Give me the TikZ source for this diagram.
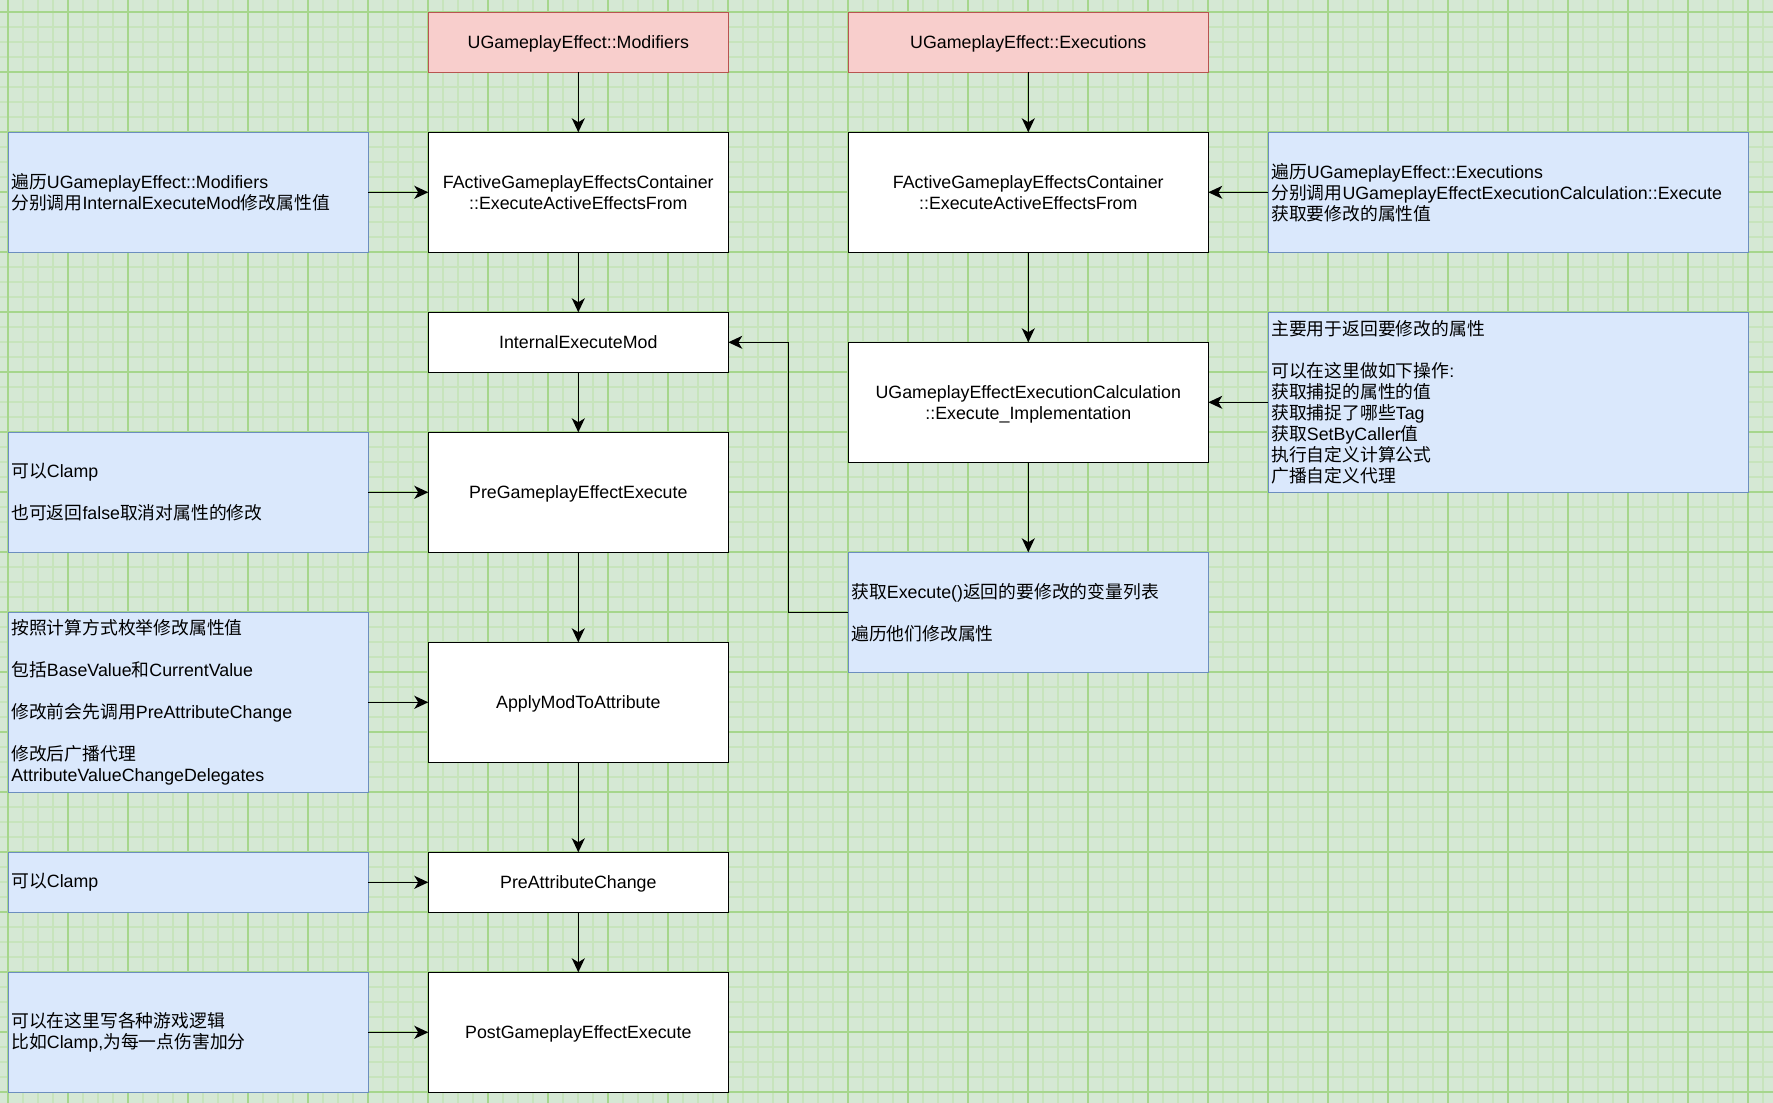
\documentclass[tikz,border=0pt]{standalone}
\usepackage{fontspec}
\setmainfont{Liberation Sans}
\newfontfamily\cjk{Noto Sans CJK SC}
\usetikzlibrary{arrows.meta}
\newcommand\zh[1]{{\cjk #1}}
\definecolor{gbg}{RGB}{213,232,212}
\definecolor{gminor}{RGB}{199,228,188}
\definecolor{gmajor}{RGB}{166,214,140}
\definecolor{redfill}{HTML}{F8CECC}
\definecolor{redline}{HTML}{B85450}
\definecolor{bluefill}{HTML}{DAE8FC}
\definecolor{blueline}{HTML}{6C8EBF}
\tikzset{
  box/.style={draw, line width=1.6pt, inner sep=0pt, outer sep=0pt, font=\fontsize{17.8}{21}\selectfont},
  whitebox/.style={box, draw=black, fill=white, align=center, text depth=-3pt},
  redbox/.style={box, draw=redline, fill=redfill, align=center, text depth=-3pt},
  bluebox/.style={box, draw=blueline, fill=bluefill, align=left, inner xsep=3pt},
  arr/.style={line width=1.6pt, -{Stealth[length=14pt,width=13pt,inset=4pt]}},
}
\begin{document}
\begin{tikzpicture}[x=1pt,y=-1pt]
\useasboundingbox (0,0) rectangle (1773,1103);
\fill[gbg] (0,0) rectangle (1773,1103);
\foreach \i in {0,...,119} {
  \draw[gminor, line width=2pt] ({8.3-15+15*\i},0) -- ({8.3-15+15*\i},1103);
}
\foreach \i in {0,...,74} {
  \draw[gminor, line width=2pt] (0,{12.3-15+15*\i}) -- (1773,{12.3-15+15*\i});
}
\foreach \i in {0,...,29} {
  \draw[gmajor, line width=2pt] ({8.3+60*\i},0) -- ({8.3+60*\i},1103);
}
\foreach \i in {0,...,18} {
  \draw[gmajor, line width=2pt] (0,{12.3+60*\i}) -- (1773,{12.3+60*\i});
}

% main column (x 428.3 - 728.3)
\node[redbox, minimum width=300pt, minimum height=60pt] (mods) at (578.3,42.3) {UGameplayEffect::Modifiers};
\node[whitebox, minimum width=300pt, minimum height=120pt] (fa1) at (578.3,192.3) {FActiveGameplayEffectsContainer\\::ExecuteActiveEffectsFrom};
\node[whitebox, minimum width=300pt, minimum height=60pt] (ime) at (578.3,342.3) {InternalExecuteMod};
\node[whitebox, minimum width=300pt, minimum height=120pt] (pge) at (578.3,492.3) {PreGameplayEffectExecute};
\node[whitebox, minimum width=300pt, minimum height=120pt] (amta) at (578.3,702.3) {ApplyModToAttribute};
\node[whitebox, minimum width=300pt, minimum height=60pt] (pac) at (578.3,882.3) {PreAttributeChange};
\node[whitebox, minimum width=300pt, minimum height=120pt] (post) at (578.3,1032.3) {PostGameplayEffectExecute};

% left notes (x 8.3 - 368.3)
\node[bluebox, minimum width=360pt, text width=354pt, minimum height=120pt] (n1) at (188.3,192.3) {\zh{遍历}UGameplayEffect::Modifiers\\\zh{分别调用}InternalExecuteMod\zh{修改属性值}};
\node[bluebox, minimum width=360pt, text width=354pt, minimum height=120pt] (n2) at (188.3,492.3) {\zh{可以}Clamp\\[21pt]\zh{也可返回}false\zh{取消对属性的修改}};
\node[bluebox, minimum width=360pt, text width=354pt, minimum height=180pt] (n3) at (188.3,702.3) {\zh{按照计算方式枚举修改属性值}\\[21pt]\zh{包括}BaseValue\zh{和}CurrentValue\\[21pt]\zh{修改前会先调用}PreAttributeChange\\[21pt]\zh{修改后广播代理}\\AttributeValueChangeDelegates};
\node[bluebox, minimum width=360pt, text width=354pt, minimum height=60pt] (n4) at (188.3,882.3) {\zh{可以}Clamp};
\node[bluebox, minimum width=360pt, text width=354pt, minimum height=120pt] (n5) at (188.3,1032.3) {\zh{可以在这里写各种游戏逻辑}\\\zh{比如}Clamp,\zh{为每一点伤害加分}};

% right column (x 848.3 - 1208.3)
\node[redbox, minimum width=360pt, minimum height=60pt] (execs) at (1028.3,42.3) {UGameplayEffect::Executions};
\node[whitebox, minimum width=360pt, minimum height=120pt] (fa2) at (1028.3,192.3) {FActiveGameplayEffectsContainer\\::ExecuteActiveEffectsFrom};
\node[whitebox, minimum width=360pt, minimum height=120pt] (calc) at (1028.3,402.3) {UGameplayEffectExecutionCalculation\\::Execute\_Implementation};
\node[bluebox, minimum width=360pt, text width=354pt, minimum height=120pt] (getx) at (1028.3,612.3) {\zh{获取}Execute()\zh{返回的要修改的变量列表}\\[21pt]\zh{遍历他们修改属性}};

% far right notes (x 1268.3 - 1748.3)
\node[bluebox, minimum width=480pt, text width=474pt, minimum height=120pt] (r1) at (1508.3,192.3) {\zh{遍历}UGameplayEffect::Executions\\\zh{分别调用}UGameplayEffectExecutionCalculation::Execute\\\zh{获取要修改的属性值}};
\node[bluebox, minimum width=480pt, text width=474pt, minimum height=180pt] (r2) at (1508.3,402.3) {\zh{主要用于返回要修改的属性}\\[21pt]\zh{可以在这里做如下操作}:\\\zh{获取捕捉的属性的值}\\\zh{获取捕捉了哪些}Tag\\\zh{获取}SetByCaller\zh{值}\\\zh{执行自定义计算公式}\\\zh{广播自定义代理}};

% connectors
\draw[arr] (mods) -- (fa1);
\draw[arr] (fa1) -- (ime);
\draw[arr] (ime) -- (pge);
\draw[arr] (pge) -- (amta);
\draw[arr] (amta) -- (pac);
\draw[arr] (pac) -- (post);
\draw[arr] (n1) -- (fa1);
\draw[arr] (n2) -- (pge);
\draw[arr] (n3) -- (amta);
\draw[arr] (n4) -- (pac);
\draw[arr] (n5) -- (post);
\draw[arr] (execs) -- (fa2);
\draw[arr] (fa2) -- (calc);
\draw[arr] (calc) -- (getx);
\draw[arr] (r1) -- (fa2);
\draw[arr] (r2) -- (calc);
\draw[arr] (getx.west) -- ++(-60,0) |- (ime.east);
\end{tikzpicture}
\end{document}
